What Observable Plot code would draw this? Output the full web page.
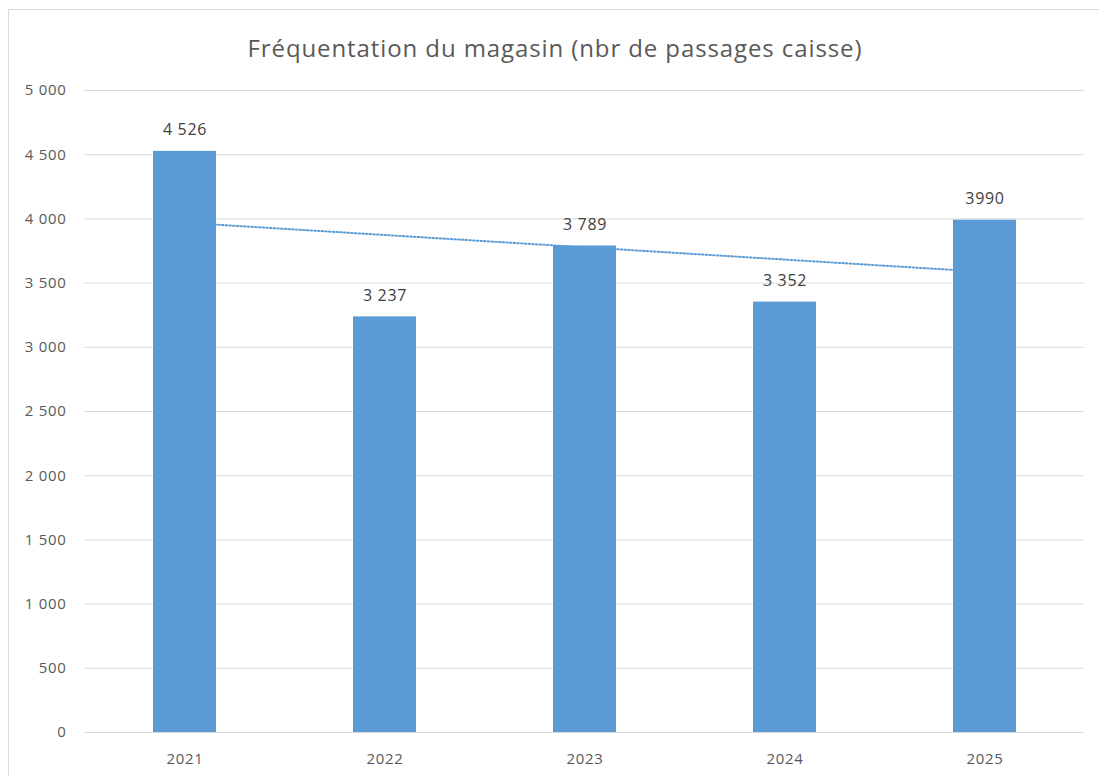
<!DOCTYPE html>
<html>
<head>
<meta charset="utf-8">
<script src="https://cdn.jsdelivr.net/npm/d3@7"></script>
<script src="https://cdn.jsdelivr.net/npm/@observablehq/plot@0.6"></script>
<style>
  html, body { margin: 0; padding: 0; background: #fff; width: 1099px; height: 776px; overflow: hidden; }
  #frame { position: absolute; left: 8px; top: 9px; width: 1100px; height: 800px; border: 1px solid #d9d9d9; box-sizing: border-box; }
  #title { position: absolute; left: 0; top: 32px; width: 1110px; text-align: center; font-family: "Open Sans", sans-serif; font-size: 24px; letter-spacing: 0.9px; color: #595959; line-height: 32px; }
  #chart { position: absolute; left: 0; top: 70px; }
  #chart svg text { letter-spacing: 0.7px; }
</style>
</head>
<body>
<div id="frame"></div>
<div id="title">Fréquentation du magasin (nbr de passages caisse)</div>
<div id="chart"></div>
<script>
const years = ["2021", "2022", "2023", "2024", "2025"];
const visits = [4526, 3237, 3789, 3352, 3990];
const valueLabels = ["4 526", "3 237", "3 789", "3 352", "3990"];
const yTicks = [0, 500, 1000, 1500, 2000, 2500, 3000, 3500, 4000, 4500, 5000];

const data = years.map((y, i) => ({year: y, value: visits[i], label: valueLabels[i]}));

// linear trendline (least squares over category index)
const n = visits.length;
const xs = years.map((_, i) => i + 1);
const mx = d3.mean(xs), my = d3.mean(visits);
const slope = d3.sum(xs.map((x, i) => (x - mx) * (visits[i] - my))) / d3.sum(xs.map(x => (x - mx) ** 2));
const intercept = my - slope * mx;
const trend = [
  {year: years[0], value: intercept + slope * xs[0]},
  {year: years[n - 1], value: intercept + slope * xs[n - 1]}
];

const fr = d3.formatLocale({decimal: ",", thousands: " ", grouping: [3], currency: ["", " €"]});
const fmt = fr.format(",d");

const blue = "#5B9BD5";

const chart = Plot.plot({
  width: 1099,
  height: 706,
  marginTop: 20,
  marginBottom: 44,
  marginLeft: 84,
  marginRight: 15,
  style: {fontFamily: "Open Sans, sans-serif", fontSize: "15px", color: "#595959", background: "transparent"},
  x: {domain: years, paddingInner: 0.685, paddingOuter: 0.3425, label: null},
  y: {domain: [0, 5000], label: null},
  marks: [
    Plot.gridY(yTicks, {stroke: "#d9d9d9", strokeOpacity: 1, strokeWidth: 1}),
    Plot.line(trend, {x: "year", y: "value", stroke: blue, strokeWidth: 2, strokeDasharray: "1.5 2.2"}),
    Plot.barY(data, {x: "year", y: "value", fill: blue}),
    Plot.text(data, {x: "year", y: "value", text: "label", dy: -21, fontSize: 16, fill: "#404040"}),
    Plot.axisX({tickSize: 0, tickPadding: 21, fontSize: 15, fill: "#595959"}),
    Plot.axisY({ticks: yTicks, tickFormat: fmt, tickSize: 0, tickPadding: 18, fontSize: 15, fill: "#595959"})
  ]
});
document.getElementById("chart").appendChild(chart);
</script>
</body>
</html>
